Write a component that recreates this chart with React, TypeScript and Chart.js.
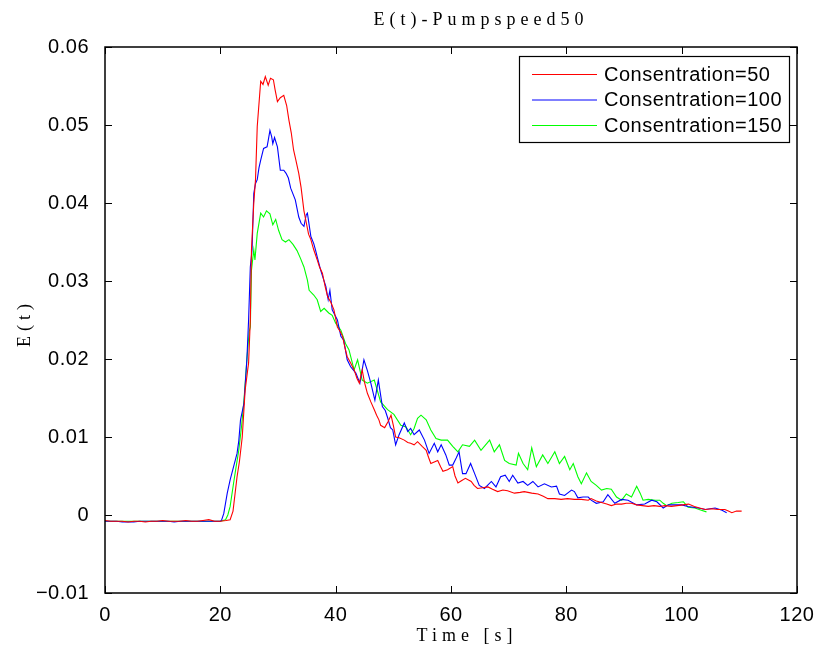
import React, { useEffect, useRef } from "react";
import { Chart, registerables } from "chart.js";

Chart.register(...registerables);

const chartTitle = "E(t)-Pumpspeed50";
const xAxisTitle = "Time [s]";
const yAxisTitle = "E(t)";
const seriesLabels = ["Consentration=50", "Consentration=100", "Consentration=150"];
const seriesColors = ["#ff0000", "#0000ff", "#00ff00"];
const xTicks = [0, 20, 40, 60, 80, 100, 120];
const yTicks = [-0.01, 0, 0.01, 0.02, 0.03, 0.04, 0.05, 0.06];

const redTime = [
  0, 1, 2, 3, 4, 5, 6, 7, 8, 9, 10, 11, 12, 13, 14, 15, 16, 17, 18, 19, 20, 21,
  21.7, 22.2, 22.9, 23.3, 23.8, 24.3, 24.9, 25.2, 25.4, 25.8, 26.1, 26.4, 27.0, 27.4, 27.8, 28.3, 28.7, 29.2,
  29.5, 29.9, 30.4, 31.0, 31.5, 31.9, 32.3, 32.7, 33.1, 33.6, 34.0, 34.5, 34.9, 35.3, 35.7, 36.2, 36.8, 37.2,
  37.7, 38.2, 38.6, 39.2, 39.7, 40.3, 40.8, 41.2, 41.6, 42.0, 42.6, 43.2, 43.7, 44.1, 44.6, 45.0, 45.5, 46.1,
  46.7, 47.1, 47.5, 47.8, 48.5, 49.1, 49.6, 50.0, 50.4, 51.0, 51.9, 52.5, 53.0, 53.6, 54.2, 55.0, 55.7, 56.1,
  56.5, 57.1, 57.7, 58.2, 58.6, 59.4, 60.3, 60.7, 61.2, 61.8, 62.5, 63.5, 64.0, 64.6, 65.5, 66.4, 67.2, 68.1,
  69.0, 69.8, 71.0, 72.0, 72.7, 74.0, 75.1, 76.0, 76.8, 78.0, 79.1, 80.2, 81.4, 82.6, 83.8, 84.3, 85.2, 86.1,
  87.0, 87.8, 88.7, 89.6, 90.4, 91.3, 92.2, 93.2, 94.2, 95.2, 96.2, 97.1, 98.2, 99.2, 100.2, 101.2, 102.2,
  103.1, 104.1, 105.2, 106.3, 107.5, 108.1, 108.7, 109.5, 110.4,
];
const redValues = [
  -0.0007, -0.0008, -0.0008, -0.0008, -0.0009, -0.0008, -0.0008, -0.0009, -0.0008, -0.0008, -0.0007, -0.0008,
  -0.0008, -0.0008, -0.0007, -0.0008, -0.0008, -0.0007, -0.0006, -0.0008, -0.0008, -0.0007,
  -0.0006, 0.0005, 0.0049, 0.0068, 0.010, 0.016, 0.0195, 0.025, 0.034, 0.040, 0.043, 0.0498, 0.0556, 0.0552,
  0.0562, 0.0551, 0.056, 0.0558, 0.0545, 0.053, 0.0535, 0.0538, 0.0525, 0.0506, 0.049, 0.0468, 0.0455, 0.0438,
  0.042, 0.039, 0.0375, 0.036, 0.0353, 0.034, 0.0327, 0.0318, 0.031, 0.0292, 0.028, 0.0272, 0.0263, 0.0241,
  0.0235, 0.0229, 0.0215, 0.0203, 0.0195, 0.0186, 0.0175, 0.0169, 0.0186, 0.017, 0.0156, 0.0145, 0.0135, 0.0128,
  0.0122, 0.0115, 0.0112, 0.0120, 0.0128, 0.0115, 0.010, 0.0099, 0.0096, 0.0093, 0.0092, 0.0090, 0.0094, 0.0088,
  0.0083, 0.0074, 0.0066, 0.0068, 0.0070, 0.0062, 0.0056, 0.0058, 0.0062, 0.0050, 0.0041, 0.0044, 0.0047, 0.0043,
  0.0038, 0.0034, 0.0035, 0.0036, 0.0033, 0.0030, 0.0032, 0.0031, 0.0028, 0.0029, 0.0030, 0.0028, 0.0027, 0.0024,
  0.0021, 0.0021, 0.0020, 0.0021, 0.0020, 0.0020, 0.0019, 0.0021, 0.0018, 0.0016, 0.0014, 0.0012, 0.0014, 0.0014,
  0.0015, 0.0015, 0.0013, 0.0012, 0.0011, 0.0012, 0.0011, 0.0012, 0.0011, 0.0012, 0.0013, 0.0014, 0.0011, 0.0009,
  0.0007, 0.0008, 0.0007, 0.0007, 0.0005, 0.0003, 0.0005, 0.0005,
];

const blueTime = [
  0, 1, 2, 3, 4, 5, 6, 7, 8, 9, 10, 11, 12, 13, 14, 15, 16, 17, 18, 19, 20,
  20.2, 20.6, 21.2, 21.7, 22.3, 22.9, 23.2, 23.5, 24.1, 24.6, 24.9, 25.2, 25.5, 25.8, 26.1, 26.4, 26.7, 27.0,
  27.5, 28.1, 28.3, 28.6, 28.9, 29.1, 29.4, 29.9, 30.4, 31.0, 31.4, 31.8, 32.2, 33.0, 33.6, 34.0, 34.5, 34.9,
  35.1, 35.7, 36.2, 36.5, 36.8, 37.4, 37.9, 38.3, 38.7, 39.0, 39.4, 40.3, 40.9, 41.4, 42.0, 42.6, 43.5, 44.2,
  44.9, 45.5, 46.1, 46.8, 47.4, 48.1, 48.6, 49.0, 49.5, 49.9, 50.4, 51.0, 51.9, 52.5, 53.0, 53.6, 54.5, 55.4,
  56.2, 57.1, 57.7, 58.3, 59.1, 59.7, 60.3, 60.9, 61.4, 62.0, 62.6, 63.4, 64.1, 64.9, 65.8, 67.0, 67.8, 68.6,
  69.4, 70.1, 70.7, 71.6, 72.5, 73.3, 74.2, 75.1, 76.2, 77.4, 78.3, 78.8, 79.7, 80.9, 81.4, 82.0, 82.9, 83.8,
  84.3, 85.2, 86.4, 87.2, 88.4, 89.6, 90.7, 92.2, 93.6, 94.8, 95.7, 96.8, 97.7, 98.8, 100.0, 101.1, 102.9,
  104.1, 105.8, 107.0, 107.8,
];
const blueValues = [
  -0.0008, -0.0008, -0.0008, -0.0009, -0.0009, -0.0009, -0.0008, -0.0008, -0.0008, -0.0008, -0.0008, -0.0008,
  -0.0009, -0.0008, -0.0008, -0.0008, -0.0008, -0.0008, -0.0008, -0.0008, -0.0008,
  -0.0007, 0.0002, 0.0028, 0.0045, 0.0062, 0.0079, 0.0095, 0.0122, 0.0143, 0.0199, 0.025, 0.0318, 0.0340, 0.0412,
  0.0425, 0.043, 0.0445, 0.0455, 0.047, 0.0472, 0.0480, 0.0493, 0.0485, 0.0476, 0.0484, 0.0472, 0.0442, 0.0442,
  0.0438, 0.0432, 0.0419, 0.0404, 0.0382, 0.0374, 0.037, 0.0385, 0.0387, 0.0357, 0.0348, 0.034, 0.0331, 0.0314,
  0.0302, 0.0293, 0.0276, 0.0288, 0.0263, 0.025, 0.0229, 0.0224, 0.0199, 0.019, 0.0182, 0.0169, 0.0199, 0.0185,
  0.0169, 0.0147, 0.0173, 0.0139, 0.0134, 0.0125, 0.0112, 0.0109, 0.009, 0.0103, 0.0118, 0.0107, 0.0111, 0.0103,
  0.0109, 0.0096, 0.0079, 0.0092, 0.0081, 0.009, 0.0077, 0.0064, 0.0064, 0.0073, 0.0081, 0.0053, 0.0053, 0.0066,
  0.0053, 0.0038, 0.0034, 0.0043, 0.0036, 0.0049, 0.0051, 0.0043, 0.0051, 0.0041, 0.0043, 0.0038, 0.0043, 0.0036,
  0.0040, 0.0036, 0.0037, 0.0027, 0.0025, 0.0032, 0.003, 0.0022, 0.0023, 0.0023, 0.0019, 0.0015, 0.0017, 0.0026,
  0.0015, 0.0020, 0.0019, 0.0013, 0.0014, 0.0019, 0.0017, 0.0009, 0.0013, 0.0013, 0.0013, 0.0011, 0.0009, 0.0007,
  0.0009, 0.0006, 0.0003,
];

const greenTime = [
  0, 1, 2, 3, 4, 5, 6, 7, 8, 9, 10, 11, 12, 13, 14, 15, 16, 17, 18, 19, 20,
  20.9, 21.3, 21.7, 22.3, 22.7, 23.2, 23.7, 24.1, 24.6, 25.0, 25.2, 25.4, 25.8, 26.0, 26.4, 27.0, 27.5, 28.0,
  28.6, 29.1, 29.6, 30.1, 30.7, 31.3, 31.9, 32.6, 33.3, 33.9, 34.5, 35.1, 35.4, 36.2, 36.8, 37.4, 38.0, 38.8,
  39.4, 40.0, 40.9, 41.7, 42.3, 43.2, 43.8, 44.6, 45.5, 46.7, 47.8, 49.0, 50.1, 51.3, 52.2, 53.0, 53.6, 54.2,
  54.8, 55.7, 56.5, 57.4, 58.3, 59.4, 60.3, 61.2, 62.0, 63.2, 64.1, 65.2, 66.7, 67.5, 68.4, 69.3, 70.1, 71.3,
  71.7, 72.5, 73.3, 74.0, 74.8, 75.9, 76.8, 78.0, 78.8, 79.7, 80.6, 81.2, 82.0, 82.6, 83.5, 84.3, 85.2, 86.1,
  87.0, 87.8, 88.7, 89.6, 90.4, 91.3, 92.2, 92.8, 93.3, 94.2, 95.4, 96.2, 96.8, 97.4, 98.3, 99.4, 100.3, 101.1,
  102.3, 103.4, 104.3,
];
const greenValues = [
  -0.0008, -0.0008, -0.0008, -0.0008, -0.0008, -0.0008, -0.0008, -0.0008, -0.0008, -0.0008, -0.0008, -0.0008,
  -0.0008, -0.0008, -0.0008, -0.0008, -0.0008, -0.0008, -0.0008, -0.0008, -0.0008,
  -0.0006, 0.0000, 0.0011, 0.0041, 0.0060, 0.0083, 0.0115, 0.0147, 0.0199, 0.0235, 0.0241, 0.0314, 0.034, 0.0327,
  0.0361, 0.0387, 0.0382, 0.039, 0.0386, 0.0372, 0.0379, 0.0365, 0.0353, 0.035, 0.0353, 0.0347, 0.0339, 0.0329,
  0.0318, 0.0301, 0.0288, 0.0282, 0.0276, 0.0261, 0.0265, 0.0259, 0.0256, 0.0246, 0.0237, 0.022, 0.0212, 0.0186,
  0.0199, 0.0173, 0.0169, 0.0173, 0.0145, 0.0135, 0.0129, 0.0115, 0.0113, 0.0103, 0.0111, 0.0124, 0.0128, 0.0122,
  0.0109, 0.0098, 0.0096, 0.0096, 0.0088, 0.0081, 0.009, 0.0088, 0.0096, 0.0083, 0.0096, 0.0081, 0.009, 0.0070,
  0.0066, 0.0064, 0.0079, 0.0066, 0.0058, 0.0086, 0.0062, 0.0077, 0.0066, 0.0081, 0.0066, 0.0075, 0.0058, 0.0066,
  0.0049, 0.0040, 0.0054, 0.0043, 0.0038, 0.0032, 0.0034, 0.0033, 0.0023, 0.0019, 0.0027, 0.0023, 0.0037, 0.0028,
  0.0019, 0.0020, 0.0019, 0.0019, 0.0015, 0.0012, 0.0015, 0.0016, 0.0017, 0.0010, 0.0009, 0.0006, 0.0004,
];

const seriesTimes = [redTime, blueTime, greenTime];
const seriesValues = [redValues, blueValues, greenValues];

const sansFont = "'Liberation Sans', Arial, Helvetica, sans-serif";
const serifFont = "'Liberation Serif', 'Times New Roman', serif";

const framePlugin = {
  id: "matlabFrame",
  beforeDraw(chart: any) {
    (chart.ctx as any).letterSpacing = "0.5px";
  },
  afterDraw(chart: any) {
    const { ctx, chartArea: a, scales } = chart;
    ctx.save();
    ctx.strokeStyle = "#000";
    ctx.lineWidth = 1.5;
    ctx.strokeRect(a.left, a.top, a.right - a.left, a.bottom - a.top);
    ctx.lineWidth = 1;
    const tl = 7;
    ctx.beginPath();
    xTicks.forEach((t) => {
      const px = Math.round(scales.x.getPixelForValue(t)) + 0.5;
      ctx.moveTo(px, a.bottom);
      ctx.lineTo(px, a.bottom - tl);
      ctx.moveTo(px, a.top);
      ctx.lineTo(px, a.top + tl);
    });
    yTicks.forEach((v) => {
      const py = Math.round(scales.y.getPixelForValue(v)) + 0.5;
      ctx.moveTo(a.left, py);
      ctx.lineTo(a.left + tl, py);
      ctx.moveTo(a.right, py);
      ctx.lineTo(a.right - tl, py);
    });
    ctx.stroke();

    // legend
    const lx = 519, ly = 56, lw = 270, lh = 86;
    ctx.fillStyle = "#fff";
    ctx.fillRect(lx, ly, lw, lh);
    ctx.strokeStyle = "#000";
    ctx.lineWidth = 1.2;
    ctx.strokeRect(lx + 0.5, ly + 0.5, lw, lh);
    ctx.font = `20px ${sansFont}`;
    (ctx as any).letterSpacing = "0.5px";
    ctx.textAlign = "left";
    ctx.textBaseline = "middle";
    chart.data.datasets.forEach((ds: any, i: number) => {
      const y = ly + 18 + i * 25.5;
      ctx.strokeStyle = ds.borderColor;
      ctx.lineWidth = 1;
      ctx.beginPath();
      ctx.moveTo(lx + 13, y + 0.5);
      ctx.lineTo(lx + 78, y + 0.5);
      ctx.stroke();
      ctx.fillStyle = "#000";
      ctx.fillText(ds.label, lx + 85, y + 1);
    });

    // titles
    ctx.fillStyle = "#000";
    ctx.font = `18px ${serifFont}`;
    (ctx as any).letterSpacing = "5px";
    ctx.textAlign = "center";
    ctx.textBaseline = "middle";
    ctx.fillText(chartTitle, 481, 20);
    ctx.fillText(xAxisTitle, 467, 636);
    ctx.save();
    ctx.translate(25, 325);
    ctx.rotate(-Math.PI / 2);
    ctx.fillText(yAxisTitle, 2, 0);
    ctx.restore();
    ctx.restore();
  },
};

export default function App() {
  const ref = useRef<HTMLCanvasElement | null>(null);
  useEffect(() => {
    document.body.style.margin = "0";
    if (!ref.current) return;
    const datasets = seriesLabels.map((label, i) => ({
      label,
      data: seriesTimes[i].map((t, j) => ({ x: t, y: seriesValues[i][j] })),
      borderColor: seriesColors[i],
      backgroundColor: seriesColors[i],
      borderWidth: 1.1,
      pointRadius: 0,
      tension: 0,
      fill: false,
    }));
    const chart = new Chart(ref.current, {
      type: "line",
      data: { datasets },
      options: {
        responsive: false,
        animation: false,
        devicePixelRatio: 1,
        layout: { padding: { top: 47, right: 22, left: 0, bottom: 0 } },
        plugins: { legend: { display: false }, title: { display: false }, tooltip: { enabled: false } },
        scales: {
          x: {
            type: "linear",
            min: 0,
            max: 120,
            afterFit: (s: any) => {
              s.height = 60;
              s.paddingLeft = 0;
              s.paddingRight = 0;
            },
            afterBuildTicks: (s: any) => { s.ticks = xTicks.map((v) => ({ value: v })); },
            grid: { display: false },
            border: { display: false },
            ticks: { color: "#000", font: { family: sansFont, size: 20 }, padding: 2, maxRotation: 0, autoSkip: false },
          },
          y: {
            type: "linear",
            min: -0.01,
            max: 0.06,
            afterFit: (s: any) => {
              s.width = 105;
              s.paddingTop = 0;
              s.paddingBottom = 0;
            },
            afterBuildTicks: (s: any) => { s.ticks = yTicks.map((v) => ({ value: v })); },
            grid: { display: false },
            border: { display: false },
            ticks: {
              color: "#000",
              font: { family: sansFont, size: 20 },
              padding: 8,
              autoSkip: false,
              callback: (v: any) => {
                const n = Number(v);
                if (Math.abs(n) < 1e-9) return "0";
                return n.toFixed(2).replace("-", "\u2212");
              },
            },
          },
        },
      },
      plugins: [framePlugin],
    });
    return () => chart.destroy();
  }, []);
  return (
    <div style={{ width: 819, height: 653, background: "#fff" }}>
      <canvas ref={ref} width={819} height={653} style={{ display: "block" }} />
    </div>
  );
}
